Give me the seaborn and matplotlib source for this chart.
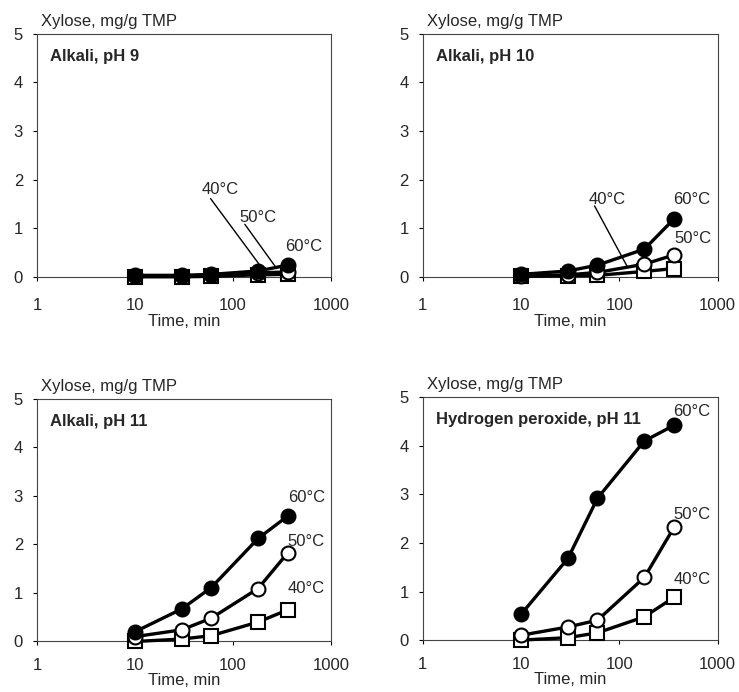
import matplotlib
matplotlib.use("Agg")
import matplotlib.pyplot as plt
import seaborn as sns
import pandas as pd

sns.set_style("white")
plt.rcParams['font.family'] = ['Liberation Sans', 'DejaVu Sans']

#Time points, min
time_min = [10, 30, 60, 180, 360]

#Xylose released, mg/g TMP
ph9_60 = [0.03, 0.03, 0.05, 0.12, 0.24]
ph9_50 = [0.02, 0.02, 0.03, 0.08, 0.10]
ph9_40 = [0.00, 0.00, 0.01, 0.04, 0.05]

ph10_60 = [0.05, 0.12, 0.24, 0.57, 1.19]
ph10_50 = [0.02, 0.04, 0.09, 0.26, 0.45]
ph10_40 = [0.01, 0.02, 0.03, 0.11, 0.17]

ph11_60 = [0.20, 0.67, 1.11, 2.12, 2.58]
ph11_50 = [0.10, 0.24, 0.48, 1.09, 1.82]
ph11_40 = [0.00, 0.05, 0.12, 0.40, 0.65]

h2o2_60 = [0.53, 1.68, 2.92, 4.10, 4.42]
h2o2_50 = [0.10, 0.27, 0.41, 1.29, 2.32]
h2o2_40 = [0.00, 0.05, 0.15, 0.48, 0.88]

panel_titles = ["Alkali, pH 9", "Alkali, pH 10", "Alkali, pH 11", "Hydrogen peroxide, pH 11"]
temps = ["40°C", "50°C", "60°C"]

panels = [
    [ph9_40, ph9_50, ph9_60],
    [ph10_40, ph10_50, ph10_60],
    [ph11_40, ph11_50, ph11_60],
    [h2o2_40, h2o2_50, h2o2_60],
]

#marker style per temperature (40, 50, 60)
styles = [
    dict(marker="s", markersize=9.5, markerfacecolor="white"),
    dict(marker="o", markersize=10, markerfacecolor="white"),
    dict(marker="o", markersize=10, markerfacecolor="black"),
]

#label placement: (text x, text y, leader start x, start y, end x, end y)
label_pos = [
    [(74, 1.79, 59, 1.61, 204, 0.14), (178, 1.23, 132, 1.08, 279, 0.17), (528, 0.62, None, None, None, None)],
    [(76, 1.60, 56, 1.46, 122, 0.19), (565, 0.78, None, None, None, None), (550, 1.60, None, None, None, None)],
    [(560, 1.09, None, None, None, None), (560, 2.06, None, None, None, None), (560, 2.96, None, None, None, None)],
    [(550, 1.24, None, None, None, None), (550, 2.59, None, None, None, None), (547, 4.71, None, None, None, None)],
]

positions = [
    [0.050, 0.600, 0.398, 0.351],
    [0.572, 0.600, 0.399, 0.351],
    [0.050, 0.073, 0.398, 0.351],
    [0.572, 0.075, 0.399, 0.351],
]

fig = plt.figure(figsize=(7.39, 6.92), dpi=100)

for i in range(4):
    ax = fig.add_axes(positions[i])
    for j in range(3):
        df = pd.DataFrame({"Time": time_min, "Xylose": panels[i][j]})
        sns.lineplot(data=df, x="Time", y="Xylose", ax=ax, color="black",
                     linewidth=2.4, markeredgecolor="black", markeredgewidth=1.5,
                     zorder=3 + j, clip_on=False, **styles[j])
    ax.set_xscale("log")
    ax.set_xlim(1, 1000)
    ax.set_ylim(0, 5)
    ax.set_xticks([1, 10, 100, 1000])
    ax.set_xticklabels(["1", "10", "100", "1000"])
    ax.set_yticks([0, 1, 2, 3, 4, 5])
    ax.minorticks_off()
    ax.tick_params(axis="both", direction="out", length=3, width=0.8, labelsize=12,
                   color="black", bottom=True, left=True)
    ax.tick_params(axis="x", pad=12 if i < 2 else 9)
    ax.tick_params(axis="y", pad=7)
    for s in ax.spines.values():
        s.set_color("#444444")
        s.set_linewidth(0.8)
    ax.set_xlabel("Time, min", fontsize=12, labelpad=1 if i < 2 else 0)
    ax.set_ylabel("")
    ax.text(0.014, 1.02, "Xylose, mg/g TMP", transform=ax.transAxes,
            ha="left", va="bottom", fontsize=12)
    ax.text(0.045, 0.907, panel_titles[i], transform=ax.transAxes,
            ha="left", va="center", fontsize=12, fontweight="bold")
    for j in range(3):
        tx, ty, sx, sy, lx, ly = label_pos[i][j]
        ax.text(tx, ty, temps[j], ha="center", va="center", fontsize=12, zorder=10)
        if lx is not None:
            ax.annotate("", xy=(lx, ly), xytext=(sx, sy),
                        arrowprops=dict(arrowstyle="-", color="black", lw=1.0,
                                        shrinkA=0, shrinkB=0))

fig.savefig("out.png", dpi=100)
